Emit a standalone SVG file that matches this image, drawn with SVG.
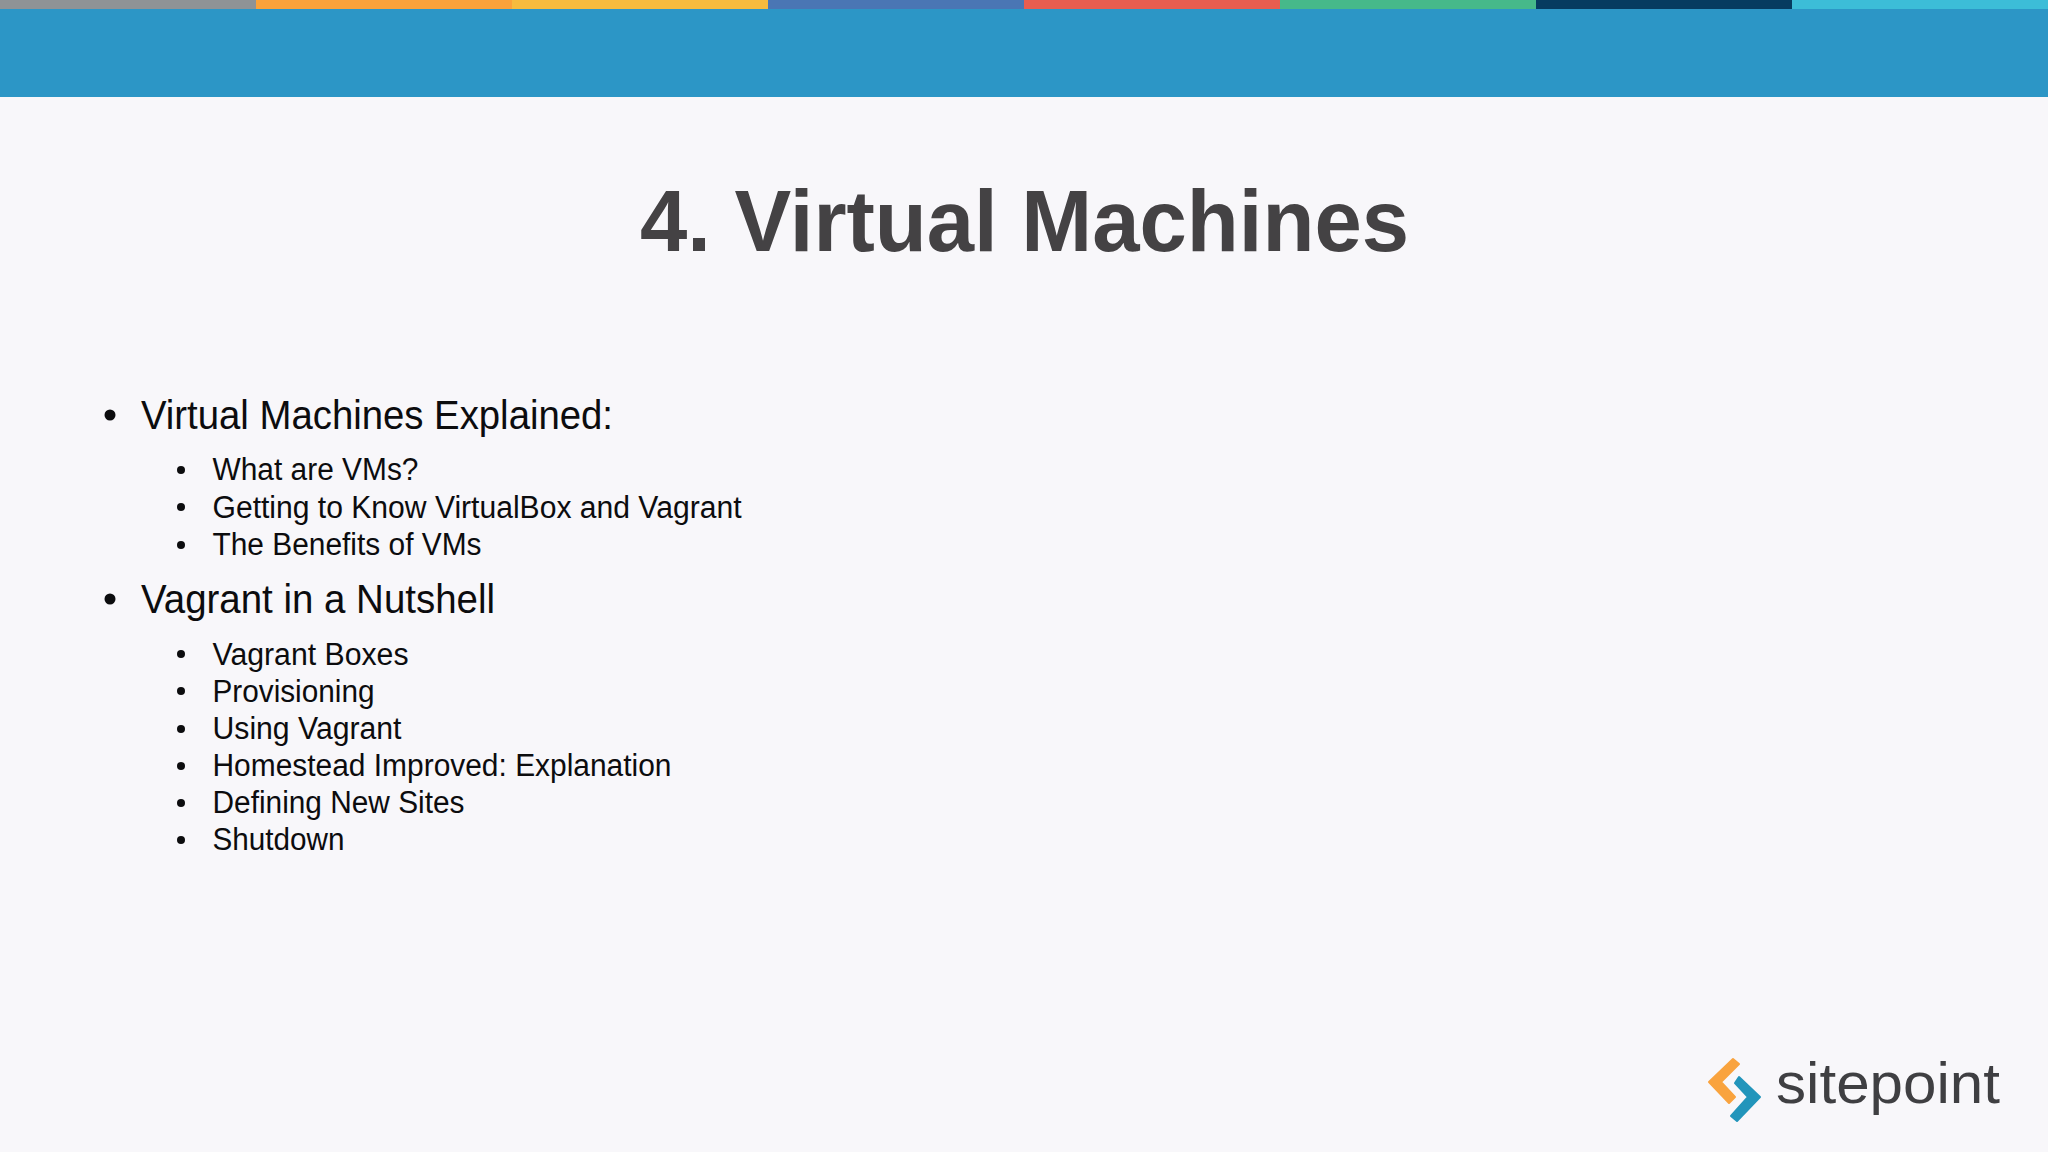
<svg xmlns="http://www.w3.org/2000/svg" width="2048" height="1152" viewBox="0 0 2048 1152">
<style>
text{font-family:"Liberation Sans",Arial,sans-serif;}
.t{font-size:88px;font-weight:700;fill:#444244}
.h{font-size:40px;fill:#0c0c0e}
.s{font-size:31px;fill:#0c0c0e}
.d{fill:#0c0c0e}
</style>
<rect width="2048" height="1152" fill="#f8f7fa"/>
<g id="header">
<rect width="2048" height="97" fill="#2c96c6"/>
<rect x="0" width="256" height="9" fill="#8f9396"/>
<rect x="256" width="256" height="9" fill="#fba23a"/>
<rect x="512" width="256" height="9" fill="#f6bb3e"/>
<rect x="768" width="256" height="9" fill="#4a76b4"/>
<rect x="1024" width="256" height="9" fill="#e95d50"/>
<rect x="1280" width="256" height="9" fill="#46b98a"/>
<rect x="1536" width="256" height="9" fill="#063b60"/>
<rect x="1792" width="256" height="9" fill="#3cbdd8"/>
</g>
<text id="title" class="t" x="640" y="251" textLength="769" lengthAdjust="spacingAndGlyphs">4. Virtual Machines</text>
<g id="list">
<circle class="d" cx="110" cy="415" r="5.5"/><text class="h" x="141" y="429" textLength="472" lengthAdjust="spacingAndGlyphs">Virtual Machines Explained:</text>
<circle class="d" cx="181" cy="470" r="4"/><text class="s" x="212.5" y="480" textLength="206" lengthAdjust="spacingAndGlyphs">What are VMs?</text>
<circle class="d" cx="181" cy="507" r="4"/><text class="s" x="212.5" y="518" textLength="529" lengthAdjust="spacingAndGlyphs">Getting to Know VirtualBox and Vagrant</text>
<circle class="d" cx="181" cy="545" r="4"/><text class="s" x="212.5" y="555" textLength="269" lengthAdjust="spacingAndGlyphs">The Benefits of VMs</text>
<circle class="d" cx="110" cy="599" r="5.5"/><text class="h" x="141" y="613" textLength="354" lengthAdjust="spacingAndGlyphs">Vagrant in a Nutshell</text>
<circle class="d" cx="181" cy="654" r="4"/><text class="s" x="212.5" y="665" textLength="196" lengthAdjust="spacingAndGlyphs">Vagrant Boxes</text>
<circle class="d" cx="181" cy="691" r="4"/><text class="s" x="212.5" y="702" textLength="162" lengthAdjust="spacingAndGlyphs">Provisioning</text>
<circle class="d" cx="181" cy="729" r="4"/><text class="s" x="212.5" y="739" textLength="189" lengthAdjust="spacingAndGlyphs">Using Vagrant</text>
<circle class="d" cx="181" cy="766" r="4"/><text class="s" x="212.5" y="776" textLength="459" lengthAdjust="spacingAndGlyphs">Homestead Improved: Explanation</text>
<circle class="d" cx="181" cy="803" r="4"/><text class="s" x="212.5" y="813" textLength="252" lengthAdjust="spacingAndGlyphs">Defining New Sites</text>
<circle class="d" cx="181" cy="840" r="4"/><text class="s" x="212.5" y="850" textLength="132" lengthAdjust="spacingAndGlyphs">Shutdown</text>
</g>
<g id="logo">
<path d="M1733 1059L1739 1064L1721 1082L1735 1097L1729 1103L1709 1082Z" fill="#f9a33e" stroke="#f9a33e" stroke-width="2" stroke-linejoin="round"/>
<path d="M1739 1077L1760 1097L1737 1121L1731 1116L1748 1097L1735 1083Z" fill="#2295bb" stroke="#2295bb" stroke-width="2" stroke-linejoin="round"/>
<text x="1776" y="1103" font-size="57" fill="#3f3f42" textLength="224" lengthAdjust="spacingAndGlyphs">sitepoint</text>
</g>
</svg>
